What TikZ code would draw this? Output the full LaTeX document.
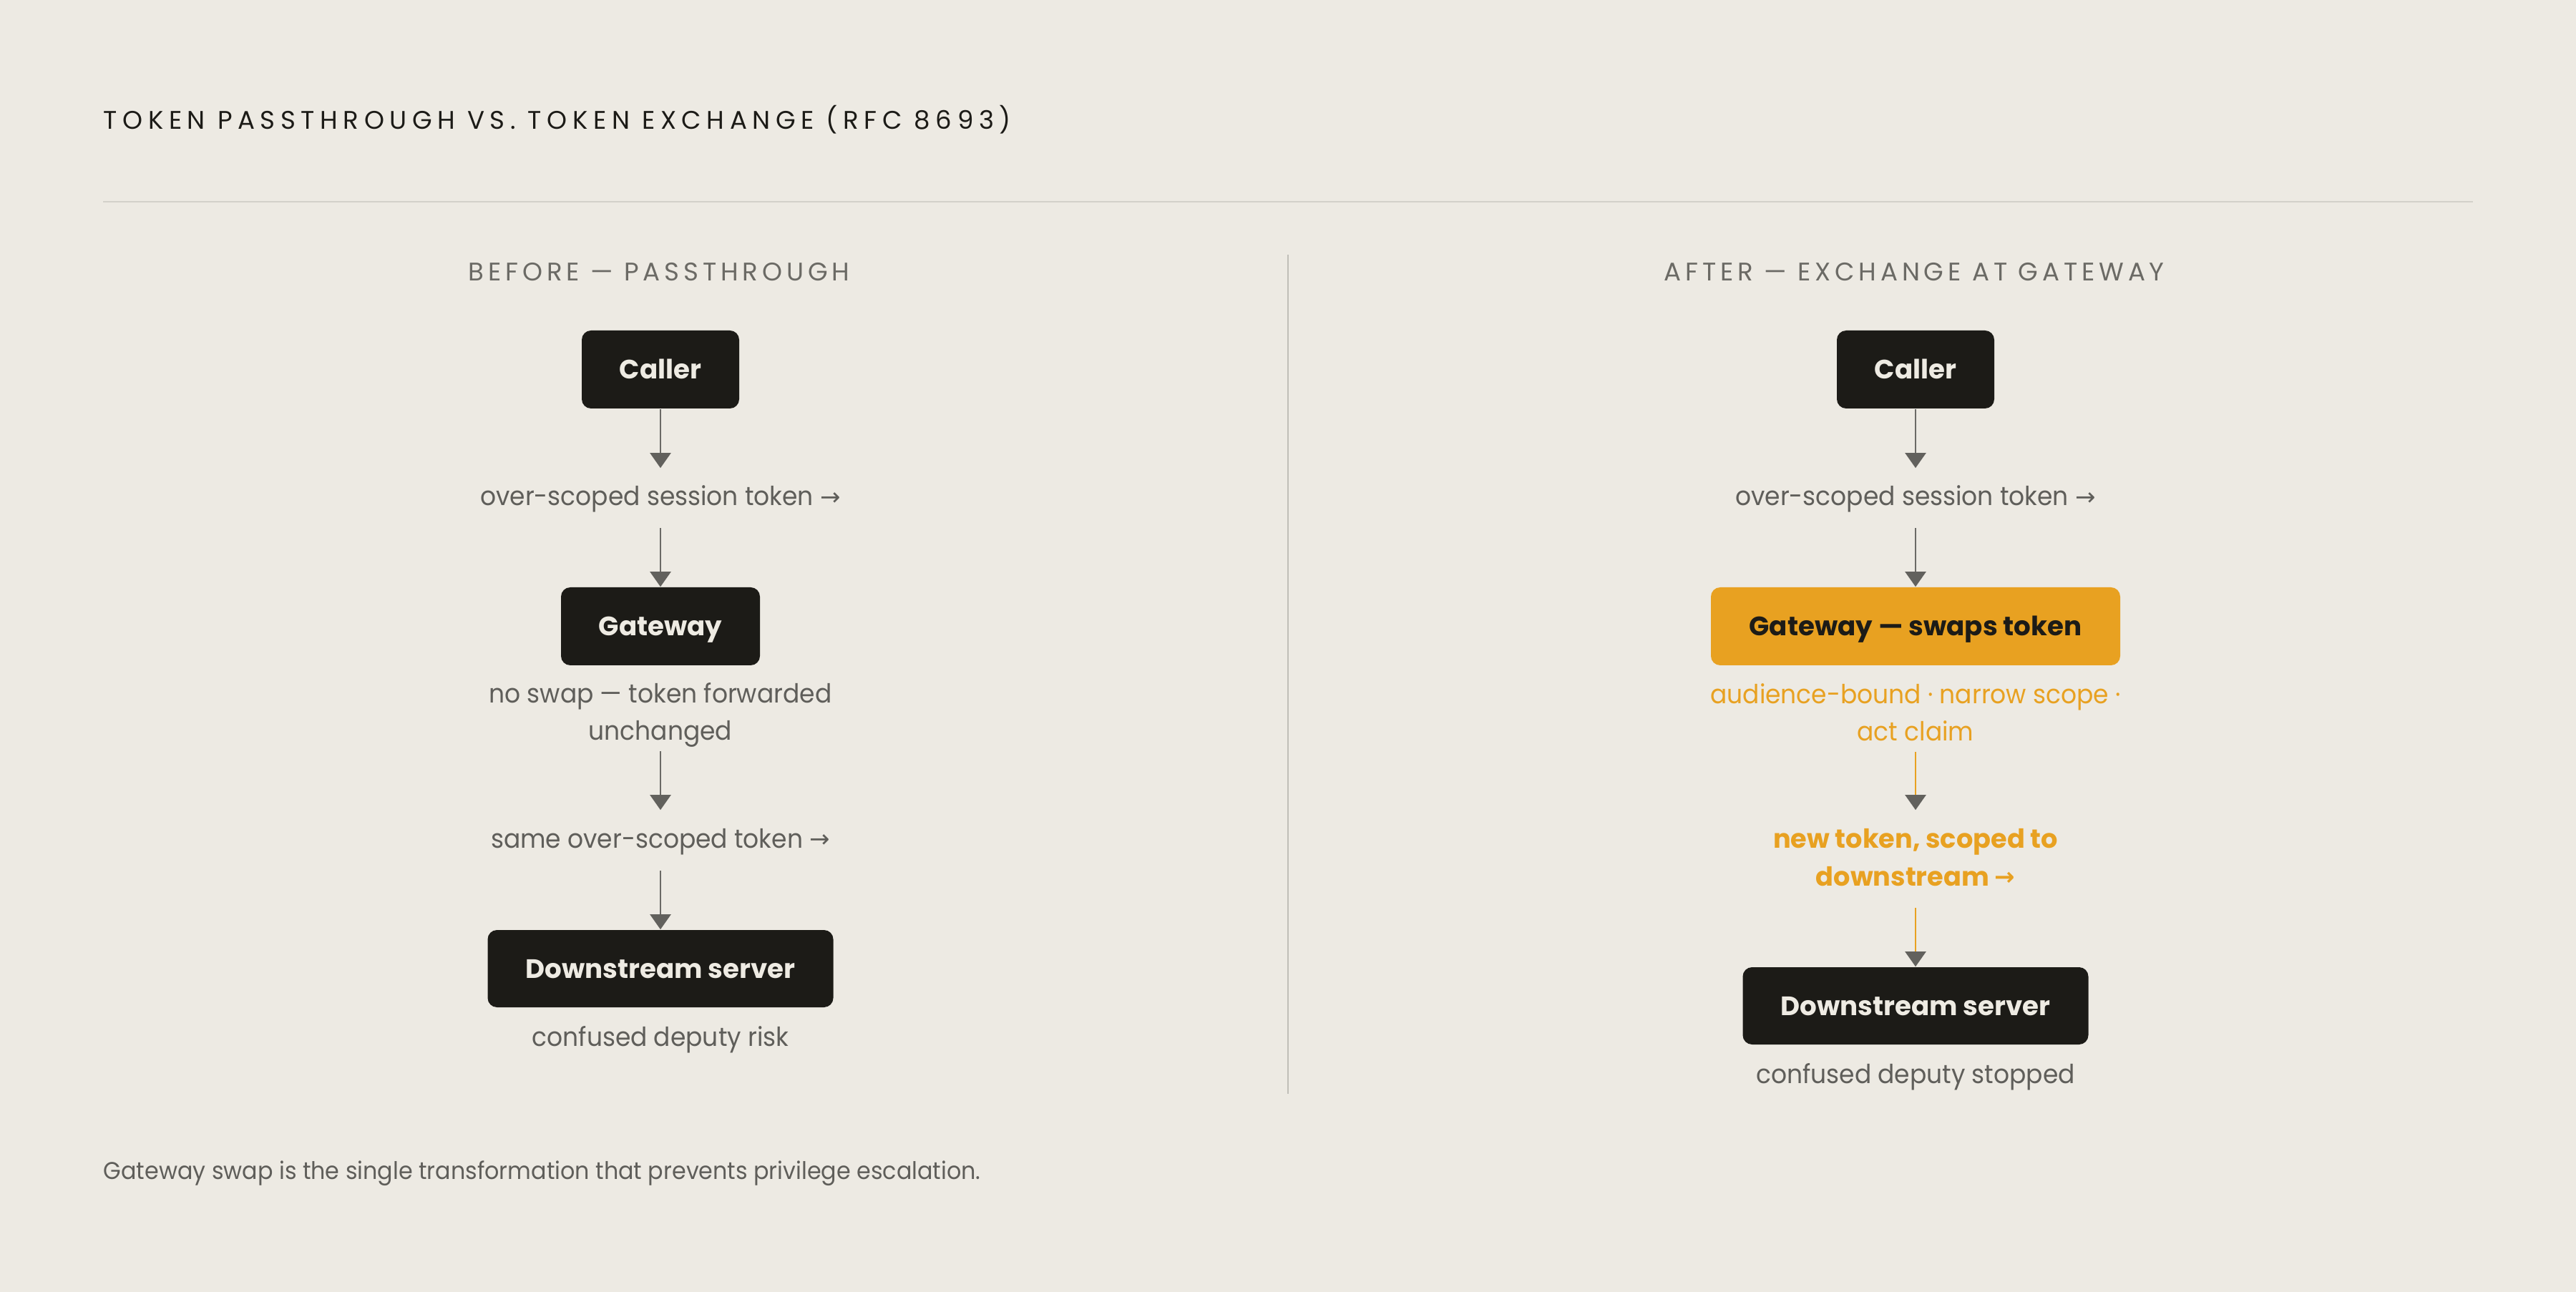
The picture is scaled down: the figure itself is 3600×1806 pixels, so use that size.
\documentclass[tikz,border=0pt]{standalone}
\usepackage{fontspec}
\setmainfont{Poppins}
\newfontfamily\regfont[FakeStretch=0.94]{Poppins}
\newfontfamily\titlefont[LetterSpace=21.3]{Poppins}
\newfontfamily\headfont[LetterSpace=16.5]{Poppins}
\newfontfamily\arrowfont{DejaVu Sans}
\newcommand\arr{{\fontsize{8.5}{9}\arrowfont\raisebox{0.2pt}{→}}}
\usetikzlibrary{arrows.meta}
\definecolor{bg}{HTML}{EDEAE3}
\definecolor{ink}{HTML}{1C1B17}
\definecolor{boxtext}{HTML}{EEEBE3}
\definecolor{orange}{HTML}{E8A121}
\definecolor{graytext}{HTML}{5F5E5A}
\definecolor{headgray}{HTML}{6B6A65}
\definecolor{linegray}{HTML}{6B6A66}
\definecolor{headtip}{HTML}{62615D}
\definecolor{rulecol}{HTML}{D3D1CA}
\definecolor{divcol}{HTML}{C0BEB8}
\tikzset{
  px/.style={x=0.25pt,y=-0.25pt},
  darkbox/.style={draw=none,fill=ink,text=boxtext,rounded corners=3.25pt,
    font=\fontsize{9.3}{12}\selectfont\bfseries,inner sep=0pt,
    text height=6.5pt,text depth=0pt},
  orangebox/.style={darkbox,fill=orange,text=ink},
  lbl/.style={inner sep=0pt,anchor=base,text height=7.5pt,text depth=2.5pt,
    text=graytext,font=\fontsize{9.17}{12.8}\regfont},
  olbl/.style={lbl,text=orange},
  oblbl/.style={lbl,text=orange,font=\fontsize{9.17}{12.8}\selectfont\bfseries},
  head/.style={inner sep=0pt,anchor=base,text=headgray,font=\fontsize{8.9}{12}\headfont},
  flow/.style={draw=linegray,line width=0.58pt,-{Triangle[width=7.25pt,length=5.25pt,color=headtip]}},
  oflow/.style={flow,draw=orange},
}
\begin{document}
\begin{tikzpicture}[px]
\useasboundingbox[fill=bg] (0,0) rectangle (3600,1806);
% title and rules
\node[inner sep=0pt,anchor=base west,text=ink,font=\fontsize{8.9}{12}\titlefont] (title) at (144,181)
  {TOKEN PASSTHROUGH VS. TOKEN EXCHANGE (RFC 8693)};
\coordinate (ruleL) at (144,282);
\coordinate (ruleR) at (3456,282);
\draw[rulecol,line width=0.5pt] (ruleL) -- (ruleR);
\coordinate (divT) at (1800,356);
\coordinate (divB) at (1800,1529);
\draw[divcol,line width=0.6pt] (divT) -- (divB);
% headings
\node[head] (lhead) at (921,393) {BEFORE — PASSTHROUGH};
\node[head] (rhead) at (2675,393) {AFTER — EXCHANGE AT GATEWAY};
% left column
\node[darkbox,minimum width=220*0.25pt,minimum height=109*0.25pt] (lcaller) at (923,516.5) {Caller};
\node[lbl] (l1) at (923,707) {over-scoped session token \arr};
\node[darkbox,minimum width=278*0.25pt,minimum height=109*0.25pt] (lgate) at (923,875.5) {Gateway};
\node[lbl] (lsuba) at (923,983) {no swap — token forwarded};
\node[lbl] (lsubb) at (923,1034) {unchanged};
\node[lbl] (l2) at (923,1185) {same over-scoped token \arr};
\node[darkbox,minimum width=483*0.25pt,minimum height=108*0.25pt] (ldown) at (923,1354) {Downstream server};
\node[lbl] (lcap) at (923,1462) {confused deputy risk};
\draw[flow,shorten >=5.5pt] (lcaller.south) -- (l1.north);
\draw[flow,shorten <=5.1pt] (l1.south) -- (lgate.north);
\draw[flow,shorten <=1.25pt,shorten >=5.5pt] (lsubb.south) -- (l2.north);
\draw[flow,shorten <=5.25pt] (l2.south) -- (ldown.north);
% right column
\node[darkbox,minimum width=220*0.25pt,minimum height=109*0.25pt] (rcaller) at (2677,516.5) {Caller};
\node[lbl] (r1) at (2677,707) {over-scoped session token \arr};
\node[orangebox,minimum width=572*0.25pt,minimum height=109*0.25pt] (rgate) at (2677,875.5) {Gateway — swaps token};
\node[olbl] (rsuba) at (2677,984) {audience-bound · narrow scope ·};
\node[olbl] (rsubb) at (2677,1035) {act claim};
\node[oblbl] (r2a) at (2677,1186) {new token, scoped to};
\node[oblbl] (r2b) at (2677,1238) {downstream \arr};
\node[darkbox,minimum width=483*0.25pt,minimum height=108*0.25pt] (rdown) at (2677,1406) {Downstream server};
\node[lbl] (rcap) at (2677,1514) {confused deputy stopped};
\draw[flow,shorten >=5.5pt] (rcaller.south) -- (r1.north);
\draw[flow,shorten <=5.1pt] (r1.south) -- (rgate.north);
\draw[oflow,shorten <=1.25pt,shorten >=5.75pt] (rsubb.south) -- (r2a.north);
\draw[oflow,shorten <=5pt] (r2b.south) -- (rdown.north);
% footer
\node[inner sep=0pt,anchor=base west,text=graytext,font=\fontsize{8.45}{12}\regfont] (foot) at (144,1648)
  {Gateway swap is the single transformation that prevents privilege escalation.};
\end{tikzpicture}
\end{document}
